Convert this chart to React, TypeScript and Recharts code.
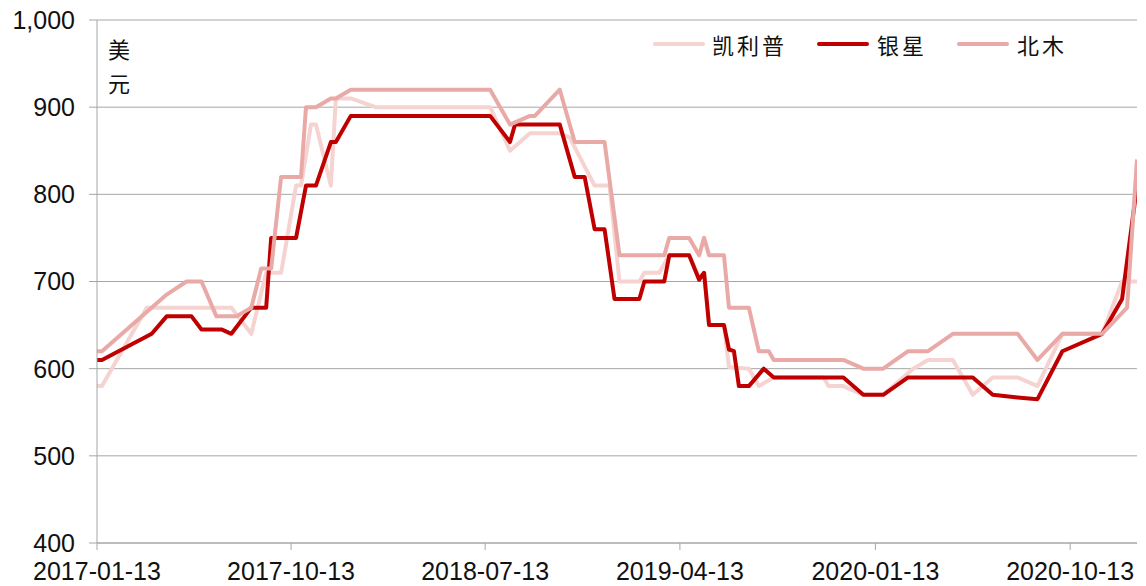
import React from 'react';
import { LineChart, Line, XAxis, YAxis, CartesianGrid } from 'recharts';

// Series names and colours (legend order)
const seriesNames = ['凯利普', '银星', '北木'];
const seriesColors = ['#F5D3D1', '#C00000', '#E9A9A7'];

// 凯利普
const kailipuDates = [
  '2017-01-13', '2017-01-20', '2017-03-24', '2017-07-21', '2017-08-18', '2017-09-08', '2017-09-29',
  '2017-10-20', '2017-10-27', '2017-11-10', '2017-11-17', '2017-12-08', '2017-12-15', '2018-01-05',
  '2018-02-09', '2018-07-20', '2018-08-17', '2018-09-14', '2018-10-26', '2018-11-09', '2018-12-14',
  '2019-01-04', '2019-01-18', '2019-02-15', '2019-02-22', '2019-03-15', '2019-03-29', '2019-04-26',
  '2019-05-10', '2019-05-17', '2019-05-24', '2019-06-14', '2019-06-21', '2019-07-19', '2019-08-02',
  '2019-08-23', '2019-11-01', '2019-11-08', '2019-11-29', '2019-12-27', '2020-01-24', '2020-03-06',
  '2020-03-27', '2020-05-01', '2020-05-29', '2020-06-26', '2020-07-31', '2020-08-28', '2020-10-02',
  '2020-11-27', '2020-12-25', '2021-01-15',
];
const kailipuValues = [
  580, 580, 670, 670, 640, 710, 710,
  810, 810, 880, 880, 810, 910, 910,
  900, 900, 850, 870, 870, 865, 810,
  810, 700, 700, 710, 710, 730, 730,
  705, 710, 650, 650, 602, 600, 580,
  590, 590, 580, 580, 570, 570, 600,
  610, 610, 570, 590, 590, 580, 640,
  640, 700, 700,
];

// 银星
const yinxingDates = [
  '2017-01-13', '2017-01-20', '2017-03-31', '2017-04-21', '2017-05-26', '2017-06-09', '2017-07-07',
  '2017-07-21', '2017-08-18', '2017-09-08', '2017-09-15', '2017-10-20', '2017-11-03', '2017-11-17',
  '2017-12-08', '2017-12-15', '2018-01-05', '2018-07-20', '2018-08-17', '2018-08-24', '2018-10-26',
  '2018-11-16', '2018-11-30', '2018-12-14', '2018-12-28', '2019-01-11', '2019-02-15', '2019-02-22',
  '2019-03-22', '2019-03-29', '2019-04-26', '2019-05-10', '2019-05-17', '2019-05-24', '2019-06-14',
  '2019-06-21', '2019-06-28', '2019-07-05', '2019-07-19', '2019-08-09', '2019-08-23', '2019-11-29',
  '2019-12-27', '2020-01-24', '2020-02-28', '2020-05-29', '2020-06-26', '2020-07-31', '2020-08-28',
  '2020-10-02', '2020-11-27', '2020-12-25', '2021-01-15',
];
const yinxingValues = [
  610, 610, 640, 660, 660, 645, 645,
  640, 670, 670, 750, 750, 810, 810,
  860, 860, 890, 890, 860, 880, 880,
  820, 820, 760, 760, 680, 680, 700,
  700, 730, 730, 702, 710, 650, 650,
  622, 620, 580, 580, 600, 590, 590,
  570, 570, 590, 590, 570, 567, 565,
  620, 640, 680, 810,
];

// 北木
const beimuDates = [
  '2017-01-13', '2017-01-20', '2017-04-21', '2017-05-19', '2017-06-09', '2017-06-30', '2017-07-28',
  '2017-08-18', '2017-09-01', '2017-09-15', '2017-09-29', '2017-10-27', '2017-11-03', '2017-11-17',
  '2017-12-08', '2017-12-15', '2018-01-05', '2018-07-20', '2018-08-17', '2018-09-14', '2018-09-21',
  '2018-10-26', '2018-11-16', '2018-12-28', '2019-01-18', '2019-03-22', '2019-03-29', '2019-04-26',
  '2019-05-10', '2019-05-17', '2019-05-24', '2019-06-14', '2019-06-21', '2019-07-19', '2019-08-02',
  '2019-08-16', '2019-08-23', '2019-11-29', '2019-12-27', '2020-01-24', '2020-02-28', '2020-03-27',
  '2020-05-01', '2020-07-31', '2020-08-28', '2020-10-02', '2020-11-27', '2021-01-01', '2021-01-15',
];
const beimuValues = [
  620, 620, 685, 700, 700, 660, 660,
  670, 715, 715, 820, 820, 900, 900,
  910, 910, 920, 920, 880, 890, 890,
  920, 860, 860, 730, 730, 750, 750,
  730, 750, 730, 730, 670, 670, 620,
  620, 610, 610, 600, 600, 620, 620,
  640, 640, 610, 640, 640, 670, 840,
];

// Axes
const xStart = '2017-01-13';
const xEnd = '2021-01-15';
const xTickLabels = ['2017-01-13', '2017-10-13', '2018-07-13', '2019-04-13', '2020-01-13', '2020-10-13'];
const yTicks = [400, 500, 600, 700, 800, 900, 1000];
const yUnit = ['美', '元'];

const toTime = (s: string) => Date.parse(s + 'T00:00:00Z');
const build = (dates: string[], values: number[]) =>
  dates.map((d, i) => ({ t: toTime(d), v: values[i] }));

const seriesData = [
  build(kailipuDates, kailipuValues),
  build(yinxingDates, yinxingValues),
  build(beimuDates, beimuValues),
];

const fmtDate = (v: number) => new Date(v).toISOString().slice(0, 10);
const fmtNum = (v: number) => v.toLocaleString('en-US');

const GRAY = '#A6A6A6';
const TICK_FONT = { fontFamily: '"Liberation Sans", Arial, sans-serif', fontSize: 25, fill: '#111' };
const CJK = '"Noto Sans CJK SC", sans-serif';

const legendPos = [
  { lineX: 653, textX: 712 },
  { lineX: 817, textX: 877 },
  { lineX: 957, textX: 1017 },
];

export default function App() {
  return (
    <div style={{ position: 'absolute', left: 0, top: 0, width: 1146, height: 586, background: '#fff' }}>
      <LineChart
        width={1146}
        height={586}
        margin={{ top: 20, right: 9, bottom: 0, left: 0 }}
      >
        <CartesianGrid vertical={false} stroke={GRAY} strokeWidth={1} />
        <XAxis
          dataKey="t"
          type="number"
          domain={[toTime(xStart), toTime(xEnd)]}
          ticks={xTickLabels.map(toTime)}
          tickFormatter={fmtDate}
          interval={0}
          height={43}
          stroke={GRAY}
          tickLine={{ stroke: GRAY }}
          tickSize={7}
          tickMargin={12}
          tick={TICK_FONT}
          allowDataOverflow
        />
        <YAxis
          type="number"
          domain={[400, 1000]}
          ticks={yTicks}
          tickFormatter={fmtNum}
          interval={0}
          width={97}
          stroke={GRAY}
          tickLine={{ stroke: GRAY }}
          tickSize={8}
          tickMargin={14}
          tick={TICK_FONT}
        />
        {seriesNames.map((name, i) => (
          <Line
            key={name}
            name={name}
            data={seriesData[i]}
            dataKey="v"
            type="linear"
            stroke={seriesColors[i]}
            strokeWidth={4}
            strokeLinejoin="round"
            dot={false}
            activeDot={false}
            isAnimationActive={false}
          />
        ))}
      </LineChart>
      {yUnit.map((ch, i) => (
        <div
          key={ch}
          style={{
            position: 'absolute', left: 108, top: 36 + i * 34, fontFamily: CJK, fontSize: 22,
            lineHeight: '24px', color: '#111',
          }}
        >
          {ch}
        </div>
      ))}
      {seriesNames.map((name, i) => (
        <React.Fragment key={name}>
          <div
            style={{
              position: 'absolute', left: legendPos[i].lineX, top: 42, width: 52, height: 4,
              borderRadius: 2, background: seriesColors[i],
            }}
          />
          <div
            style={{
              position: 'absolute', left: legendPos[i].textX, top: 30, fontFamily: CJK, fontSize: 22,
              letterSpacing: 3, lineHeight: '28px', color: '#111', whiteSpace: 'nowrap',
            }}
          >
            {name}
          </div>
        </React.Fragment>
      ))}
    </div>
  );
}
